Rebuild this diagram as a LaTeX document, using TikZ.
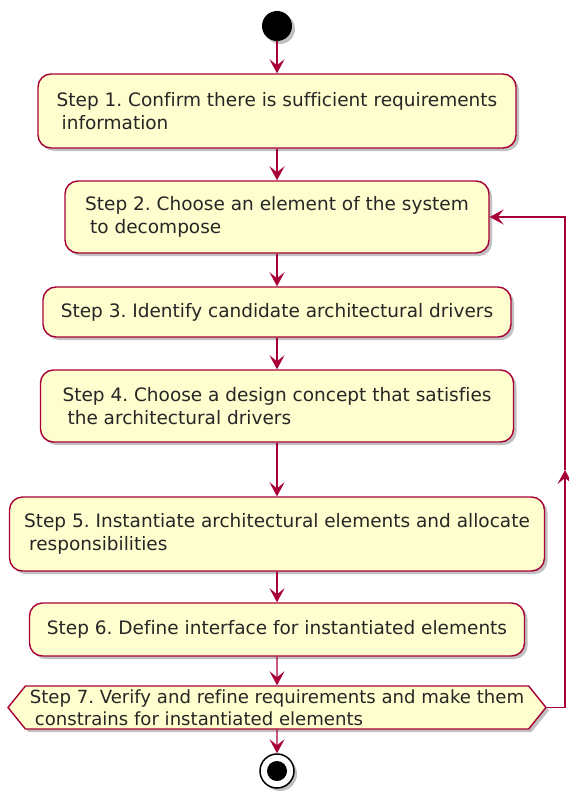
\documentclass[tikz,border=0pt]{standalone}
\usepackage{fontspec}
\setmainfont[Ligatures=NoCommon]{DejaVu Sans}
\usetikzlibrary{arrows.meta,shapes.symbols,shadows,calc}
\definecolor{pline}{HTML}{A80036}
\definecolor{pfill}{HTML}{FEFECE}
\tikzset{
  shad/.style={drop shadow={shadow xshift=3pt,shadow yshift=-3pt,opacity=0.35,fill=black!70}},
  act/.style={draw=pline, line width=1.4pt, fill=pfill, rounded corners=13pt, align=left,
    inner sep=0pt, shad, font=\fontsize{18.5}{23}\selectfont\frenchspacing, text=black!85},
  flow/.style={draw=pline, line width=1.2pt, -{Stealth[length=14pt,width=15pt,inset=6pt]}},
}
\begin{document}
\begin{tikzpicture}[x=1pt,y=-1pt]
\useasboundingbox (0,0) rectangle (569,797);
\node[circle, fill=black, minimum size=30pt, inner sep=0pt, shad] (start) at (277,26) {};
\node[act, minimum width=478pt, minimum height=74pt] (s1) at (277,111)
  {Step 1. Confirm there is sufficient requirements\\\hspace*{5pt}information};
\node[act, minimum width=424pt, minimum height=72pt] (s2) at (277,217)
  {Step 2. Choose an element of the system\\\hspace*{5pt}to decompose};
\node[act, minimum width=468pt, minimum height=50pt] (s3) at (277,312)
  {Step 3. Identify candidate architectural drivers};
\node[act, minimum width=473pt, minimum height=72pt] (s4) at (277,406)
  {Step 4. Choose a design concept that satisfies\\\hspace*{5pt}the architectural drivers};
\node[act, minimum width=535pt, minimum height=74pt] (s5) at (277,534)
  {Step 5. Instantiate architectural elements and allocate\\\hspace*{5pt}responsibilities};
\node[act, minimum width=495pt, minimum height=53pt] (s6) at (277,629.5)
  {Step 6. Define interface for instantiated elements};
\node[act, rounded corners=0pt, signal, signal to=west and east, signal pointer angle=102,
  minimum width=538pt, minimum height=43pt, font=\fontsize{18.1}{22}\selectfont\frenchspacing] (s7) at (277,707.5)
  {Step 7. Verify and refine requirements and make them\\\hspace*{5pt}constrains for instantiated elements};
\node[circle, draw=black, line width=1.5pt, fill=white, minimum size=34pt, inner sep=0pt, shad] (stop) at (277,771) {};
\fill[black] (stop.center) circle (10pt);
\draw[flow] (start) -- (s1);
\draw[flow] (s1) -- (s2);
\draw[flow] (s2) -- (s3);
\draw[flow] (s3) -- (s4);
\draw[flow] (s4) -- (s5);
\draw[flow] (s5) -- (s6);
\draw[flow] (s6) -- (s7);
\draw[flow] (s7) -- (stop);
\coordinate (lp) at (565,470);
\draw[flow] (s7.east) -| (lp);
\draw[flow] (lp) |- (s2.east);
\end{tikzpicture}
\end{document}
